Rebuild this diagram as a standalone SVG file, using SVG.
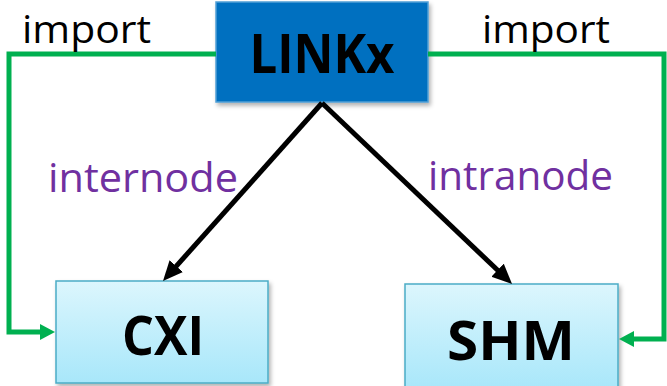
<svg xmlns="http://www.w3.org/2000/svg" width="667" height="386" viewBox="0 0 667 386">
  <style>
    .lbl { font-family: "Open Sans", "Noto Sans", "Liberation Sans", sans-serif; font-size: 41px; }
    .imp { fill: #000000; font-size: 38px; }
    .edge { fill: #7030A0; }
    .title { font-family: "Open Sans", "Noto Sans", "Liberation Sans", sans-serif; font-weight: bold; font-size: 54px; fill: #000000; }
    .green { fill: none; stroke: #00B050; stroke-width: 5; }
    .black { fill: none; stroke: #000000; stroke-width: 5; }
    .leaf { fill: url(#leafGrad); stroke: #4BACC6; stroke-width: 1.5; }
  </style>
  <defs>
    <linearGradient id="leafGrad" x1="0" y1="0" x2="0" y2="1">
      <stop offset="0" stop-color="#DCF6FD"/>
      <stop offset="1" stop-color="#A8E7FA"/>
    </linearGradient>
    <filter id="shadow" x="-10%" y="-10%" width="125%" height="130%">
      <feDropShadow dx="2" dy="3" stdDeviation="2" flood-color="#000000" flood-opacity="0.3"/>
    </filter>
    <marker id="greenHead" markerUnits="userSpaceOnUse" markerWidth="18" markerHeight="18" refX="5" refY="8" orient="auto">
      <path d="M0,0 L15,8 L0,16 z" fill="#00B050"/>
    </marker>
    <marker id="blackHead" markerUnits="userSpaceOnUse" markerWidth="22" markerHeight="20" refX="6" refY="9" orient="auto">
      <path d="M0,0 L20,9 L0,18 z" fill="#000000"/>
    </marker>
  </defs>

  <g id="LINKx">
    <rect x="216" y="2" width="212" height="100" fill="#0070C0" stroke="#4F9FD6" stroke-width="1.5" filter="url(#shadow)"/>
    <text class="title" x="322" y="73" text-anchor="middle" textLength="145" lengthAdjust="spacingAndGlyphs">LINKx</text>
  </g>

  <g id="CXI">
    <rect class="leaf" x="56" y="281" width="212" height="102" filter="url(#shadow)"/>
    <text class="title" x="163" y="355" text-anchor="middle" textLength="82" lengthAdjust="spacingAndGlyphs">CXI</text>
  </g>

  <g id="SHM">
    <rect class="leaf" x="405" y="284" width="213" height="106" filter="url(#shadow)"/>
    <text class="title" x="511" y="360" text-anchor="middle" textLength="128" lengthAdjust="spacingAndGlyphs">SHM</text>
  </g>

  <g id="connectors">
    <path class="green" d="M216,54 L9,54 L9,332 L45,332" marker-end="url(#greenHead)"/>
    <path class="green" d="M428,54 L664,54 L664,339 L629,339" marker-end="url(#greenHead)"/>
    <path class="black" d="M322,103 L172.3,270.6" marker-end="url(#blackHead)"/>
    <path class="black" d="M322,103 L501.9,274.3" marker-end="url(#blackHead)"/>
    <text class="lbl imp" x="22" y="43" textLength="129" lengthAdjust="spacingAndGlyphs">import</text>
    <text class="lbl imp" x="482" y="43" textLength="128" lengthAdjust="spacingAndGlyphs">import</text>
    <text class="lbl edge" x="48" y="192" textLength="190" lengthAdjust="spacingAndGlyphs">internode</text>
    <text class="lbl edge" x="428" y="190" textLength="185" lengthAdjust="spacingAndGlyphs">intranode</text>
  </g>
</svg>
